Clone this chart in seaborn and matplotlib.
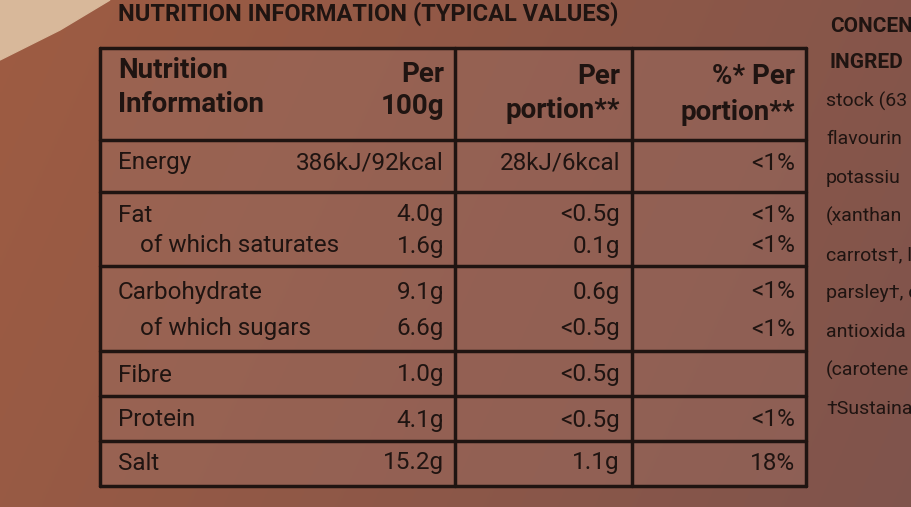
import numpy as np
import matplotlib
matplotlib.use("Agg")
import matplotlib.pyplot as plt
import seaborn as sns

sns.set_theme(style="white")
plt.rcParams['font.family'] = ['Roboto', 'DejaVu Sans']

labels = ["Energy", "Fat", "of which saturates", "Carbohydrate", "of which sugars",
          "Fibre", "Protein", "Salt"]
per100 = ["386kJ/92kcal", "4.0g", "1.6g", "9.1g", "6.6g", "1.0g", "4.1g", "15.2g"]
perportion = ["28kJ/6kcal", "<0.5g", "0.1g", "0.6g", "<0.5g", "<0.5g", "<0.5g", "1.1g"]
pct = ["<1%", "<1%", "<1%", "<1%", "<1%", "", "<1%", "18%"]
indent = [False, False, True, False, True, False, False, False]
row_y = [163, 215, 246, 292, 329, 375, 420, 463]
side_text = ["stock (63", "flavourin", "potassiu", "(xanthan", "carrots†, l",
             "parsley†, c", "antioxida", "(carotene", "†Sustaina"]

fig = plt.figure(figsize=(9.12, 5.07), dpi=100)
ax = fig.add_axes([0, 0, 1, 1])
ax.set_xlim(0, 912); ax.set_ylim(507, 0); ax.axis("off")

xx = np.linspace(0, 1, 300)
yy = np.linspace(0, 1, 200)
X, Y = np.meshgrid(xx, yy)
c1 = np.array([0.62, 0.36, 0.26]); c2 = np.array([0.50, 0.33, 0.30])
t = np.clip(X * 0.8 + Y * 0.2, 0, 1)[..., None]
img = c1 * (1 - t) + c2 * t
ax.imshow(img, extent=[0, 912, 507, 0], aspect="auto", zorder=0)
ax.fill([0, 110, 60, 0], [0, 0, 30, 60], color="#d8b89a", zorder=1)

ink = "#1f1411"
L, R = 100, 806
ax.fill([L, R, R, L], [48, 48, 486, 486], color="#9c6d62", alpha=0.45, zorder=1)
lw = 2.5
for y in [48, 140, 192, 266, 351, 396, 441, 486]:
    ax.plot([L, R], [y, y], color=ink, lw=lw, zorder=3)
for x in [L, 455, 632, R]:
    ax.plot([x, x], [48, 486], color=ink, lw=lw, zorder=3)

fs = 17.5
hb = dict(color=ink, fontsize=20, fontweight="bold", va="center", zorder=4)
ax.text(118, 70, "Nutrition", ha="left", **hb)
ax.text(118, 105, "Information", ha="left", **hb)
ax.text(444, 74, "Per", ha="right", **hb)
ax.text(444, 106, "100g", ha="right", **hb)
ax.text(620, 77, "Per", ha="right", **hb)
ax.text(620, 111, "portion**", ha="right", **hb)
ax.text(795, 77, "%* Per", ha="right", **hb)
ax.text(795, 113, "portion**", ha="right", **hb)

tb = dict(color=ink, fontsize=fs, va="center", zorder=4)
for lab, a, b, c, ind, y in zip(labels, per100, perportion, pct, indent, row_y):
    ax.text(140 if ind else 118, y, lab, ha="left", **tb)
    ax.text(444, y, a, ha="right", **tb)
    ax.text(620, y, b, ha="right", **tb)
    ax.text(795, y, c, ha="right", **tb)

ax.text(118, 14, "NUTRITION INFORMATION (TYPICAL VALUES)", ha="left",
        color=ink, fontsize=17, fontweight="bold", va="center", zorder=4)
sb = dict(color=ink, fontsize=15, fontweight="bold", va="center", ha="left", zorder=4)
ax.text(830, 27, "CONCEN", **sb)
ax.text(830, 63, "INGRED", **sb)
for i, s in enumerate(side_text):
    ax.text(826, 101 + i * 38.5, s, ha="left", color=ink, fontsize=14, va="center", zorder=4)

fig.savefig("out.png", dpi=100)
